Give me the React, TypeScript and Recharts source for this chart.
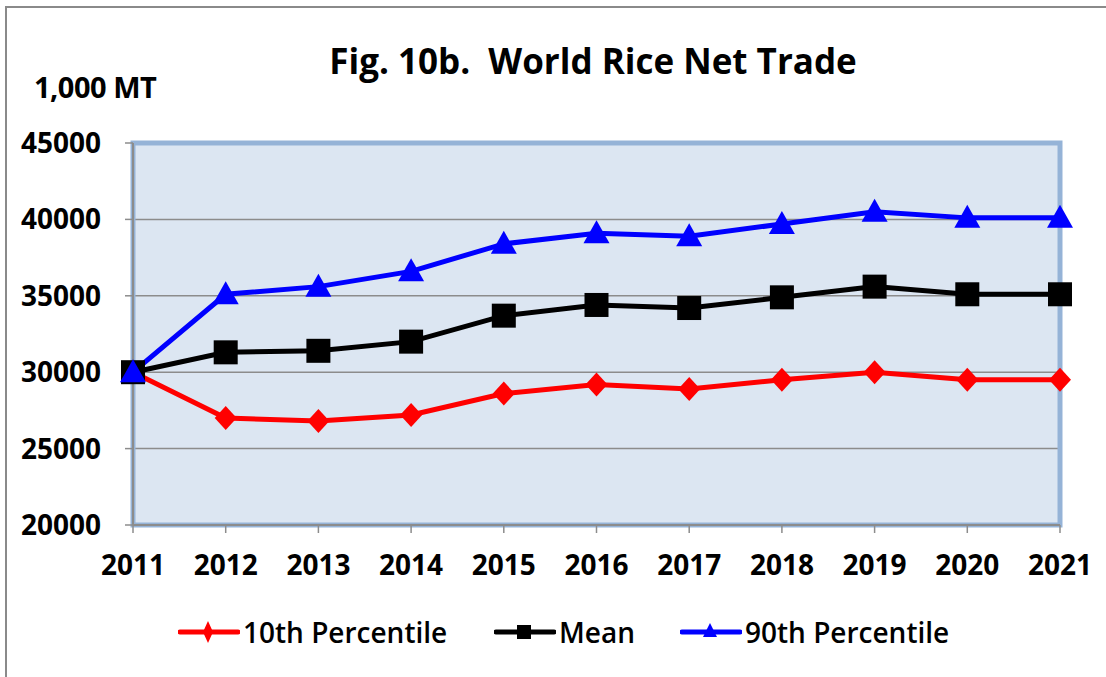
import React from "react";
import {
  LineChart,
  Line,
  XAxis,
  YAxis,
  CartesianGrid,
  ReferenceArea,
} from "recharts";

const years = ["2011", "2012", "2013", "2014", "2015", "2016", "2017", "2018", "2019", "2020", "2021"];
const p10 = [30000, 27000, 26800, 27200, 28600, 29200, 28900, 29500, 30000, 29500, 29500];
const mean = [30000, 31300, 31400, 32000, 33700, 34400, 34200, 34900, 35600, 35100, 35100];
const p90 = [30000, 35100, 35600, 36600, 38400, 39100, 38900, 39700, 40500, 40100, 40100];
const yTicks = [20000, 25000, 30000, 35000, 40000, 45000];

const title = "Fig. 10b.  World Rice Net Trade";
const unitLabel = "1,000 MT";
const seriesNames = ["10th Percentile", "Mean", "90th Percentile"];
const seriesColors = ["#FF0000", "#000000", "#0000FF"];

const data = years.map((y, i) => ({ year: y, p10: p10[i], mean: mean[i], p90: p90[i] }));

const FONT = "'Open Sans', sans-serif";

const Diamond = (props: any) => {
  const { cx, cy, fill } = props;
  if (cx == null || cy == null) return null;
  const h = 12;
  const w = 11;
  return <path d={`M${cx},${cy - h}L${cx + w},${cy}L${cx},${cy + h}L${cx - w},${cy}Z`} fill={fill} />;
};

const Square = (props: any) => {
  const { cx, cy, fill } = props;
  if (cx == null || cy == null) return null;
  const s = 12;
  return <rect x={cx - s} y={cy - s} width={2 * s} height={2 * s} fill={fill} />;
};

const Triangle = (props: any) => {
  const { cx, cy, fill } = props;
  if (cx == null || cy == null) return null;
  return <path d={`M${cx},${cy - 13}L${cx + 13},${cy + 10}L${cx - 13},${cy + 10}Z`} fill={fill} />;
};

const LegendIcon = ({ idx }: { idx: number }) => {
  const c = seriesColors[idx];
  let marker: React.ReactNode = null;
  if (idx === 0) marker = <path d="M30,3L35,14L30,25L25,14Z" fill={c} />;
  if (idx === 1) marker = <rect x={23} y={7} width={14} height={14} fill={c} />;
  if (idx === 2) marker = <path d="M30,5L37,19L23,19Z" fill={c} />;
  return (
    <svg width={62} height={28} style={{ display: "block" }}>
      <line x1={2} y1={14} x2={60} y2={14} stroke={c} strokeWidth={5} strokeLinecap="round" />
      {marker}
    </svg>
  );
};

export default function App() {
  return (
    <div
      style={{
        position: "absolute",
        left: 0,
        top: 0,
        width: 1106,
        height: 677,
        background: "#fff",
        overflow: "hidden",
        fontFamily: FONT,
      }}
    >
      <div
        style={{
          position: "absolute",
          left: 5,
          top: 6,
          width: 1200,
          height: 800,
          border: "2px solid #8a8a8a",
        }}
      />
      <div
        style={{
          position: "absolute",
          left: 0,
          width: 1186,
          top: 38,
          textAlign: "center",
          fontSize: 35,
          fontWeight: 700,
          color: "#000",
          whiteSpace: "pre",
          lineHeight: "46px",
        }}
      >
        {title}
      </div>
      <div
        style={{
          position: "absolute",
          left: 34,
          top: 68,
          fontSize: 29,
          fontWeight: 700,
          color: "#000",
          lineHeight: "38px",
          letterSpacing: -0.5,
          whiteSpace: "pre",
        }}
      >
        {unitLabel}
      </div>
      <div style={{ position: "absolute", left: 0, top: 0 }}>
        <LineChart
          width={1106}
          height={677}
          data={data}
          margin={{ top: 143, right: 46, left: 8, bottom: 0 }}
        >
          <CartesianGrid
            vertical={false}
            stroke="#8c8c8c"
            strokeWidth={1.5}
            fill="#DCE6F2"
            fillOpacity={1}
          />
          <ReferenceArea
            x1="2011"
            x2="2021"
            y1={20000}
            y2={45000}
            fill="none"
            fillOpacity={0}
            stroke="#95B3D7"
            strokeWidth={5}
            strokeOpacity={1}
          />
          <XAxis
            dataKey="year"
            height={152}
            tickSize={8}
            tickMargin={22}
            axisLine={{ stroke: "#8c8c8c", strokeWidth: 2 }}
            tickLine={{ stroke: "#8c8c8c", strokeWidth: 1.5 }}
            tick={{ fill: "#000", fontSize: 28, fontWeight: 700, fontFamily: FONT }}
            interval={0}
          />
          <YAxis
            width={125}
            domain={[20000, 45000]}
            ticks={yTicks}
            tickSize={8}
            tickMargin={24}
            axisLine={{ stroke: "#8c8c8c", strokeWidth: 2 }}
            tickLine={{ stroke: "#8c8c8c", strokeWidth: 1.5 }}
            tick={{ fill: "#000", fontSize: 28, fontWeight: 700, fontFamily: FONT }}
            allowDataOverflow
          />
          <Line
            dataKey="p10"
            name={seriesNames[0]}
            stroke={seriesColors[0]}
            strokeWidth={5}
            dot={<Diamond fill={seriesColors[0]} />}
            isAnimationActive={false}
          />
          <Line
            dataKey="mean"
            name={seriesNames[1]}
            stroke={seriesColors[1]}
            strokeWidth={5}
            dot={<Square fill={seriesColors[1]} />}
            isAnimationActive={false}
          />
          <Line
            dataKey="p90"
            name={seriesNames[2]}
            stroke={seriesColors[2]}
            strokeWidth={5}
            dot={<Triangle fill={seriesColors[2]} />}
            isAnimationActive={false}
          />
        </LineChart>
      </div>
      <div
        style={{
          position: "absolute",
          left: 0,
          top: 612,
          width: 1106,
          height: 40,
          display: "flex",
          alignItems: "center",
        }}
      >
        {seriesNames.map((n, i) => (
          <div
            key={n}
            style={{
              position: "absolute",
              left: [178, 494, 680][i],
              display: "flex",
              alignItems: "center",
              fontSize: 28,
              fontWeight: 600,
              color: "#000",
            }}
          >
            <LegendIcon idx={i} />
            <span style={{ marginLeft: 3 }}>{n}</span>
          </div>
        ))}
      </div>
    </div>
  );
}
